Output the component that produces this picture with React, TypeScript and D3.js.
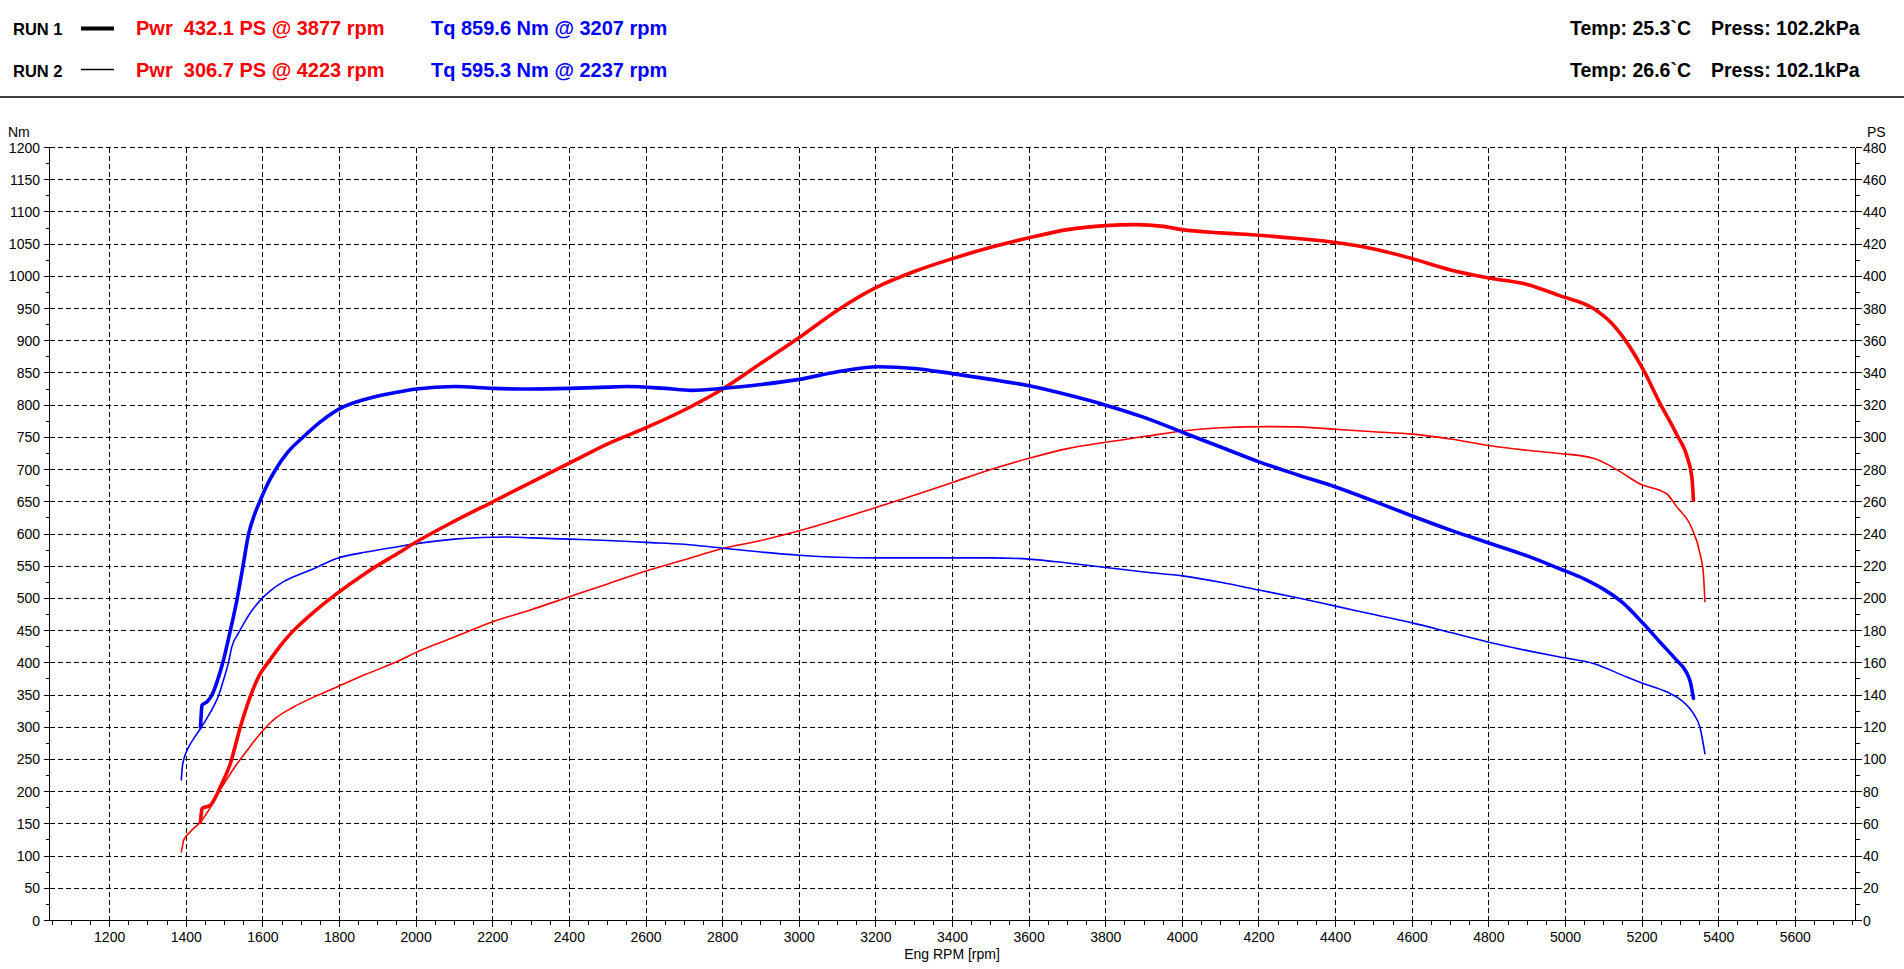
import React from "react";
import * as d3 from "d3";

// ---- data ----
// Run 1 (thick) torque [rpm, Nm]
const run1Torque: [number, number][] = [
  [1437, 300], [1439, 320], [1441, 334], [1455, 340], [1467, 350], [1480, 370], [1497, 404],
  [1515, 450], [1532, 497], [1548, 550], [1563, 601], [1578, 630], [1593, 652], [1610, 675],
  [1632, 699], [1665, 727], [1706, 751], [1750, 774], [1802, 795], [1872, 810], [1950, 820],
  [2000, 825], [2100, 829], [2200, 826], [2300, 825], [2400, 826], [2500, 828], [2550, 829],
  [2650, 826], [2720, 823], [2800, 826], [2900, 832], [3000, 840], [3100, 852], [3207, 859.6],
  [3300, 857], [3400, 849], [3500, 840], [3600, 830], [3700, 816], [3800, 800], [3900, 781],
  [4000, 758], [4100, 735], [4200, 712], [4300, 692], [4400, 673], [4500, 651], [4600, 628],
  [4700, 606], [4800, 586], [4900, 566], [4985, 546], [5050, 530], [5100, 514], [5150, 493],
  [5203, 461], [5247, 432], [5290, 404], [5315, 386], [5326, 370], [5334, 345],
];
// Run 2 (thin) torque [rpm, Nm]
const run2Torque: [number, number][] = [
  [1387, 218], [1390, 240], [1393, 249], [1405, 268], [1419, 282], [1437, 298], [1455, 315],
  [1471, 332], [1485, 350], [1497, 373], [1510, 400], [1519, 425], [1535, 445], [1550, 461],
  [1570, 480], [1593, 497], [1620, 512], [1654, 526], [1690, 536], [1724, 544], [1793, 562],
  [1870, 572], [1959, 581], [2000, 585], [2100, 592], [2200, 595], [2237, 595.3], [2300, 594],
  [2400, 592], [2500, 590], [2600, 587], [2700, 584], [2800, 578], [2900, 572], [3000, 567],
  [3100, 564], [3200, 563], [3300, 563], [3400, 563], [3500, 563], [3600, 561], [3700, 555],
  [3800, 548], [3900, 541], [4000, 535], [4100, 525], [4200, 513], [4300, 501], [4400, 488],
  [4500, 475], [4600, 462], [4700, 447], [4800, 432], [4900, 419], [4985, 409], [5073, 399],
  [5160, 378], [5203, 368], [5264, 355], [5300, 343], [5334, 321], [5351, 300], [5364, 259],
];
// Run 1 (thick) power [rpm, PS]
const run1Power: [number, number][] = [
  [1437, 61], [1439, 66], [1441, 69.5], [1463, 71.6], [1475, 76], [1489, 83], [1515, 97.5],
  [1541, 120], [1567, 139], [1590, 152], [1619, 162], [1650, 172], [1680, 180], [1735, 192],
  [1793, 203], [1870, 216], [1959, 229], [2000, 235], [2100, 248], [2200, 260], [2300, 272],
  [2400, 284], [2500, 296], [2600, 306], [2700, 317], [2800, 330], [2900, 346], [3000, 362],
  [3100, 379], [3200, 393], [3300, 403], [3400, 411], [3500, 418], [3600, 424], [3700, 429],
  [3800, 431.5], [3877, 432.1], [3950, 431], [4000, 429], [4100, 427], [4200, 425.5],
  [4300, 423.5], [4400, 421], [4500, 417], [4600, 411], [4700, 404], [4800, 399], [4900, 395],
  [4985, 388], [5073, 380], [5120, 371], [5160, 359], [5203, 342], [5247, 321], [5290, 302],
  [5320, 286], [5330, 275], [5334, 261],
];
// Run 2 (thin) power [rpm, PS]
const run2Power: [number, number][] = [
  [1387, 42.6], [1390, 46], [1393, 49.8], [1410, 55], [1437, 61.2], [1460, 69], [1480, 77.8],
  [1500, 85.5], [1524, 94.4], [1560, 106], [1593, 116], [1630, 125], [1680, 132.6],
  [1740, 139.5], [1793, 145], [1870, 153], [1959, 161.7], [2000, 166.5], [2100, 176],
  [2200, 185.5], [2300, 193], [2400, 201], [2500, 209], [2600, 217], [2700, 224], [2800, 231],
  [2900, 236], [3000, 242], [3100, 249], [3200, 256.5], [3300, 264], [3400, 272], [3500, 280],
  [3600, 287], [3700, 293], [3800, 297], [3900, 300.5], [4000, 304], [4100, 306],
  [4223, 306.7], [4300, 306.5], [4400, 305], [4500, 303.5], [4600, 302], [4700, 299],
  [4800, 295], [4900, 292], [4985, 290], [5073, 287], [5134, 280], [5195, 271], [5264, 265],
  [5290, 257], [5329, 244], [5351, 228], [5360, 215], [5364, 198],
];

const runLabels = ["RUN 1", "RUN 2"];
const powerLabels = ["Pwr  432.1 PS @ 3877 rpm", "Pwr  306.7 PS @ 4223 rpm"];
const torqueLabels = ["Tq 859.6 Nm @ 3207 rpm", "Tq 595.3 Nm @ 2237 rpm"];
const tempLabels = ["Temp: 25.3`C", "Temp: 26.6`C"];
const pressLabels = ["Press: 102.2kPa", "Press: 102.1kPa"];
const rpmTicks = [1200, 1400, 1600, 1800, 2000, 2200, 2400, 2600, 2800, 3000, 3200, 3400, 3600, 3800, 4000, 4200, 4400, 4600, 4800, 5000, 5200, 5400, 5600];
const nmTicks = [0, 50, 100, 150, 200, 250, 300, 350, 400, 450, 500, 550, 600, 650, 700, 750, 800, 850, 900, 950, 1000, 1050, 1100, 1150, 1200];
const psTicks = [0, 20, 40, 60, 80, 100, 120, 140, 160, 180, 200, 220, 240, 260, 280, 300, 320, 340, 360, 380, 400, 420, 440, 460, 480];

const W = 1904;
const H = 969;
const FONT = "'Liberation Sans', Arial, sans-serif";
const RED = "#ff0000";
const BLUE = "#0000ff";

export default function App() {
  const x = d3.scaleLinear().domain([1043, 5757]).range([49.5, 1855.5]);
  const yNm = d3.scaleLinear().domain([0, 1200]).range([920.5, 147.5]);
  const yPs = d3.scaleLinear().domain([0, 480]).range([920.5, 147.5]);
  const top = yNm(1200);
  const bottom = yNm(0);
  const left = x.range()[0];
  const right = x.range()[1];

  const nmLine = d3.line<[number, number]>().x((d) => x(d[0])).y((d) => yNm(d[1])).curve(d3.curveMonotoneX);
  const psLine = d3.line<[number, number]>().x((d) => x(d[0])).y((d) => yPs(d[1])).curve(d3.curveMonotoneX);

  const snap = (v: number) => Math.round(v - 0.5) + 0.5;

  const minorX = d3.range(1050, 5751, 50);
  const minorNm = d3.range(25, 1200, 50);
  const minorPs = d3.range(10, 480, 20);

  return (
    <svg width={W} height={H} style={{ position: "absolute", left: 0, top: 0, background: "#fff" }} fontFamily={FONT}>
      <rect x={0} y={0} width={W} height={H} fill="#fff" />
      {/* header */}
      {runLabels.map((r, i) => {
        const by = i === 0 ? 35 : 77;
        const ly = i === 0 ? 28.5 : 69.5;
        return (
          <g key={r}>
            <text x={13} y={by} fontSize={16.5} fontWeight="bold" fill="#000">{r}</text>
            <line x1={81} x2={114} y1={ly} y2={ly} stroke="#000" strokeWidth={i === 0 ? 4 : 1.6} />
            <text x={136} y={by} fontSize={20} fontWeight="bold" fill={RED} style={{ whiteSpace: "pre" }}>{powerLabels[i]}</text>
            <text x={431} y={by} fontSize={20} fontWeight="bold" fill={BLUE} style={{ whiteSpace: "pre" }}>{torqueLabels[i]}</text>
            <text x={1570} y={by} fontSize={19.5} fontWeight="bold" fill="#000">{tempLabels[i]}</text>
            <text x={1711} y={by} fontSize={19.5} fontWeight="bold" fill="#000">{pressLabels[i]}</text>
          </g>
        );
      })}
      <line x1={0} x2={W} y1={97} y2={97} stroke="#000" strokeWidth={1.5} />

      {/* grid */}
      <g stroke="#000" strokeWidth={1} strokeDasharray="5,3" shapeRendering="crispEdges">
        {rpmTicks.map((r) => (
          <line key={"gx" + r} x1={snap(x(r))} x2={snap(x(r))} y1={top} y2={bottom} />
        ))}
        {nmTicks.filter((v) => v > 0).map((v) => (
          <line key={"gy" + v} x1={left} x2={right} y1={snap(yNm(v))} y2={snap(yNm(v))} />
        ))}
      </g>

      {/* axes */}
      <g stroke="#000" strokeWidth={1.2} shapeRendering="crispEdges">
        <line x1={left} x2={left} y1={top} y2={bottom} />
        <line x1={right} x2={right} y1={top} y2={bottom} />
        <line x1={left} x2={right} y1={bottom} y2={bottom} />
        {nmTicks.map((v) => (
          <line key={"tl" + v} x1={left - 6} x2={left} y1={snap(yNm(v))} y2={snap(yNm(v))} />
        ))}
        {minorNm.map((v) => (
          <line key={"tlm" + v} x1={left - 4} x2={left} y1={snap(yNm(v))} y2={snap(yNm(v))} />
        ))}
        {psTicks.map((v) => (
          <line key={"tr" + v} x1={right} x2={right + 6} y1={snap(yPs(v))} y2={snap(yPs(v))} />
        ))}
        {minorPs.map((v) => (
          <line key={"trm" + v} x1={right} x2={right + 4} y1={snap(yPs(v))} y2={snap(yPs(v))} />
        ))}
        {minorX.map((v) => (
          <line key={"tb" + v} x1={snap(x(v))} x2={snap(x(v))} y1={bottom} y2={bottom + (v % 200 === 0 ? 6 : 4)} />
        ))}
      </g>

      {/* tick labels */}
      <g fontSize={14} fill="#000">
        {nmTicks.map((v) => (
          <text key={"ln" + v} x={40} y={yNm(v) + 5} textAnchor="end">{v}</text>
        ))}
        {psTicks.map((v) => (
          <text key={"lp" + v} x={1863} y={yPs(v) + 5} textAnchor="start">{v}</text>
        ))}
        {rpmTicks.map((v) => (
          <text key={"lx" + v} x={x(v)} y={942} textAnchor="middle">{v}</text>
        ))}
        <text x={8} y={137}>Nm</text>
        <text x={1867} y={137}>PS</text>
        <text x={952} y={959} textAnchor="middle">Eng RPM [rpm]</text>
      </g>

      {/* curves */}
      <g fill="none" strokeLinejoin="round" strokeLinecap="round">
        <path d={psLine(run2Power) || ""} stroke={RED} strokeWidth={1.6} />
        <path d={nmLine(run2Torque) || ""} stroke={BLUE} strokeWidth={1.6} />
        <path d={psLine(run1Power) || ""} stroke={RED} strokeWidth={3.6} />
        <path d={nmLine(run1Torque) || ""} stroke={BLUE} strokeWidth={3.6} />
      </g>
    </svg>
  );
}
